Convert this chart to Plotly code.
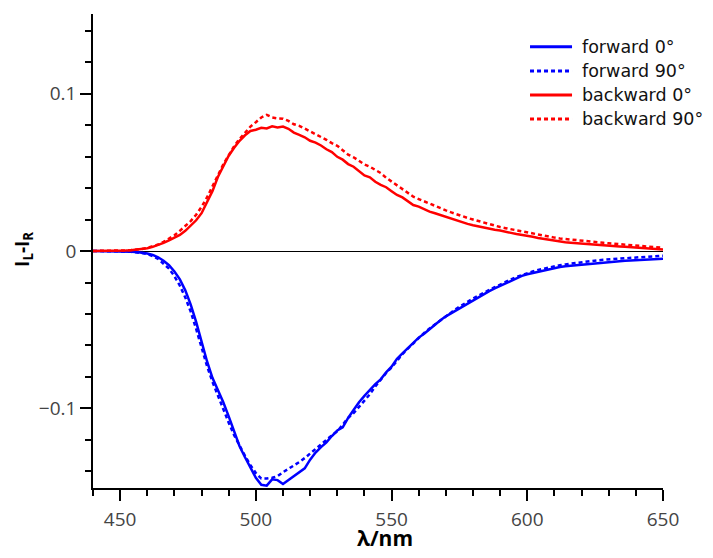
import numpy as np
import plotly.graph_objects as go

wavelength = list(range(440, 651, 2))

backward_0 = [0.0000, 0.0000, 0.0000, 0.0001, 0.0001, 0.0002, 0.0003, 0.0005, 0.0008, 0.0012,
              0.0018, 0.0026, 0.0037, 0.0052, 0.0068, 0.0085, 0.0102, 0.0128, 0.0160, 0.0195,
              0.0240, 0.0310, 0.0380, 0.0470, 0.0540, 0.0605, 0.0655, 0.0700, 0.0735, 0.0762,
              0.0770, 0.0782, 0.0778, 0.0792, 0.0785, 0.0790, 0.0776, 0.0752, 0.0738, 0.0722,
              0.0700, 0.0688, 0.0670, 0.0646, 0.0628, 0.0598, 0.0580, 0.0552, 0.0535, 0.0508,
              0.0480, 0.0468, 0.0440, 0.0420, 0.0405, 0.0380, 0.0356, 0.0340, 0.0314, 0.0292,
              0.0282, 0.0265, 0.0250, 0.0240, 0.0228, 0.0216, 0.0203, 0.0192, 0.0180, 0.0172,
              0.0163, 0.0155, 0.0150, 0.0142, 0.0135, 0.0130, 0.0121, 0.0115, 0.0108, 0.0103,
              0.0098, 0.0090, 0.0083, 0.0077, 0.0071, 0.0064, 0.0058, 0.0055, 0.0052, 0.0049,
              0.0047, 0.0046, 0.0044, 0.0041, 0.0038, 0.0035, 0.0032, 0.0029, 0.0027, 0.0024,
              0.0021, 0.0019, 0.0017, 0.0015, 0.0012, 0.0010]

backward_90 = [0.0000, 0.0000, 0.0001, 0.0001, 0.0002, 0.0003, 0.0004, 0.0006, 0.0009, 0.0013,
               0.0020, 0.0029, 0.0041, 0.0058, 0.0078, 0.0100, 0.0128, 0.0158, 0.0190, 0.0230,
               0.0280, 0.0340, 0.0405, 0.0480, 0.0550, 0.0612, 0.0665, 0.0712, 0.0752, 0.0790,
               0.0818, 0.0848, 0.0865, 0.0848, 0.0842, 0.0840, 0.0826, 0.0805, 0.0795, 0.0778,
               0.0760, 0.0745, 0.0728, 0.0706, 0.0685, 0.0668, 0.0640, 0.0612, 0.0595, 0.0572,
               0.0550, 0.0535, 0.0515, 0.0495, 0.0465, 0.0440, 0.0420, 0.0395, 0.0368, 0.0345,
               0.0330, 0.0315, 0.0300, 0.0285, 0.0272, 0.0258, 0.0245, 0.0232, 0.0220, 0.0210,
               0.0200, 0.0190, 0.0182, 0.0172, 0.0162, 0.0152, 0.0145, 0.0138, 0.0130, 0.0124,
               0.0118, 0.0110, 0.0102, 0.0096, 0.0090, 0.0085, 0.0080, 0.0076, 0.0072, 0.0068,
               0.0065, 0.0061, 0.0058, 0.0055, 0.0052, 0.0049, 0.0046, 0.0043, 0.0041, 0.0038,
               0.0035, 0.0032, 0.0030, 0.0027, 0.0024, 0.0020]

forward_0 = [0.0000, 0.0000, 0.0000, -0.0001, -0.0001, -0.0002, -0.0003, -0.0004, -0.0006, -0.0010,
             -0.0016, -0.0025, -0.0040, -0.0062, -0.0090, -0.0130, -0.0180, -0.0250, -0.0340, -0.0450,
             -0.0580, -0.0700, -0.0805, -0.0880, -0.0960, -0.1050, -0.1150, -0.1240, -0.1310, -0.1380,
             -0.1440, -0.1485, -0.1490, -0.1450, -0.1455, -0.1480, -0.1455, -0.1435, -0.1410, -0.1380,
             -0.1325, -0.1280, -0.1245, -0.1215, -0.1175, -0.1140, -0.1120, -0.1060, -0.1010, -0.0960,
             -0.0920, -0.0880, -0.0845, -0.0815, -0.0770, -0.0735, -0.0685, -0.0650, -0.0615, -0.0580,
             -0.0550, -0.0525, -0.0495, -0.0465, -0.0440, -0.0415, -0.0395, -0.0372, -0.0350, -0.0330,
             -0.0310, -0.0290, -0.0272, -0.0255, -0.0238, -0.0222, -0.0205, -0.0188, -0.0172, -0.0158,
             -0.0148, -0.0140, -0.0132, -0.0125, -0.0115, -0.0108, -0.0102, -0.0097, -0.0093, -0.0090,
             -0.0088, -0.0085, -0.0081, -0.0078, -0.0074, -0.0070, -0.0067, -0.0064, -0.0062, -0.0060,
             -0.0058, -0.0056, -0.0054, -0.0053, -0.0051, -0.0050]

forward_90 = [0.0000, 0.0000, 0.0000, -0.0001, -0.0001, -0.0002, -0.0003, -0.0005, -0.0008, -0.0013,
              -0.0020, -0.0032, -0.0050, -0.0078, -0.0112, -0.0160, -0.0220, -0.0295, -0.0385, -0.0495,
              -0.0615, -0.0730, -0.0830, -0.0920, -0.1000, -0.1090, -0.1170, -0.1240, -0.1300, -0.1360,
              -0.1410, -0.1445, -0.1445, -0.1440, -0.1430, -0.1405, -0.1385, -0.1360, -0.1340, -0.1315,
              -0.1285, -0.1255, -0.1225, -0.1195, -0.1170, -0.1145, -0.1100, -0.1060, -0.1030, -0.0990,
              -0.0945, -0.0910, -0.0860, -0.0815, -0.0775, -0.0740, -0.0695, -0.0655, -0.0620, -0.0585,
              -0.0550, -0.0520, -0.0492, -0.0465, -0.0440, -0.0412, -0.0390, -0.0365, -0.0342, -0.0322,
              -0.0302, -0.0282, -0.0263, -0.0247, -0.0230, -0.0212, -0.0195, -0.0180, -0.0165, -0.0152,
              -0.0140, -0.0130, -0.0120, -0.0112, -0.0104, -0.0097, -0.0090, -0.0085, -0.0080, -0.0075,
              -0.0071, -0.0067, -0.0063, -0.0059, -0.0056, -0.0053, -0.0050, -0.0047, -0.0045, -0.0043,
              -0.0041, -0.0039, -0.0037, -0.0035, -0.0033, -0.0030]

x_ticks = [450, 500, 550, 600, 650]
y_ticks = [-0.1, 0, 0.1]
y_tick_labels = ["\u22120.1", "0", "0.1"]

series = [
    ("forward 0°", forward_0, "#0000ff", "solid"),
    ("forward 90°", forward_90, "#0000ff", "4px,3px"),
    ("backward 0°", backward_0, "#ff0000", "solid"),
    ("backward 90°", backward_90, "#ff0000", "4px,3px"),
]

fig = go.Figure()
for name, vals, color, dash in series:
    fig.add_trace(go.Scatter(x=wavelength, y=vals, mode="lines", name=name,
                             line=dict(color=color, width=2.5, dash=dash),
                             showlegend=False))

# manual legend (key swatches + labels in paper coordinates)
legend_rows_y = [0.931, 0.880, 0.829, 0.7785]
shapes = []
annotations = []
for (name, _, color, dash), yy in zip(series, legend_rows_y):
    shapes.append(dict(type="line", xref="paper", yref="paper",
                       x0=0.7667, x1=0.8404, y0=yy, y1=yy,
                       line=dict(color=color, width=3, dash=dash)))
    annotations.append(dict(text=name, xref="paper", yref="paper", x=0.8545, y=yy,
                            xanchor="left", yanchor="middle", showarrow=False,
                            font=dict(family="DejaVu Sans", size=17.5, color="#111111")))

annotations += [
    dict(text="<b>λ/nm</b>", xref="paper", yref="paper", x=0.512, y=-0.1055,
         xanchor="center", yanchor="middle", showarrow=False,
         font=dict(family="Open Sans", size=21, color="#000000")),
    dict(text="<b>I<sub>L</sub>-I<sub>R</sub></b>", xref="paper", yref="paper",
         x=-0.124, y=0.503, xanchor="center", yanchor="middle", showarrow=False,
         textangle=-90, font=dict(family="Open Sans", size=19, color="#000000")),
]

tick_font = dict(family="Open Sans", size=19, color="#444444")

fig.update_layout(
    width=697, height=550,
    margin=dict(l=85, r=42, t=6, b=70),
    plot_bgcolor="white", paper_bgcolor="white",
    showlegend=False,
    shapes=shapes,
    annotations=annotations,
)

fig.update_xaxes(
    range=[440, 650], showgrid=False, zeroline=False,
    showline=True, linecolor="black", linewidth=1.5,
    tickmode="array", tickvals=x_ticks, ticks="outside", ticklen=11,
    tickwidth=1.5, tickcolor="black", tickfont=tick_font, ticklabelstandoff=2,
    minor=dict(tickmode="linear", tick0=440, dtick=10, ticks="outside", ticklen=6,
               tickwidth=1.5, tickcolor="black", showgrid=False),
)
fig.update_yaxes(
    range=[-0.1505, 0.1505], showgrid=False,
    zeroline=True, zerolinecolor="black", zerolinewidth=1,
    showline=True, linecolor="black", linewidth=1.5,
    tickmode="array", tickvals=y_ticks, ticktext=y_tick_labels,
    ticks="outside", ticklen=11,
    tickwidth=1.5, tickcolor="black", tickfont=tick_font, ticklabelstandoff=0,
    minor=dict(tickmode="linear", tick0=0, dtick=0.02, ticks="outside", ticklen=6,
               tickwidth=1.5, tickcolor="black", showgrid=False),
)

fig.write_html("out.html")
